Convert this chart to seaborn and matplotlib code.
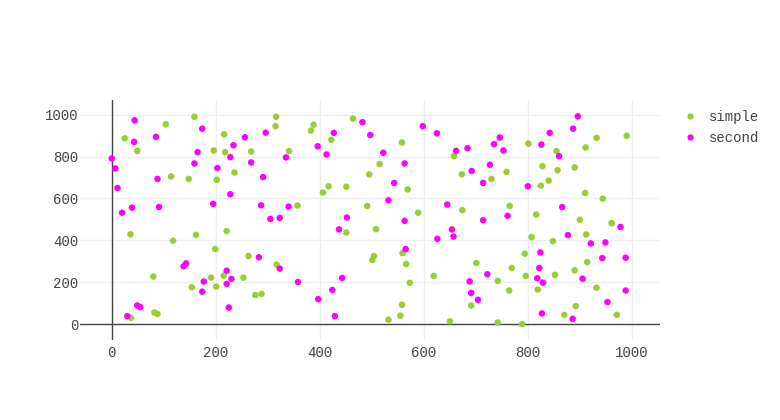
import numpy as np
import pandas as pd
import seaborn as sns
import matplotlib.pyplot as plt
from matplotlib.lines import Line2D

# -----------------------------
# Data
# -----------------------------

simple_x = [25, 49, 36, 37, 80, 82, 88, 104, 114, 118, 148, 154, 159, 162, 191, 196, 199, 201, 202, 215,
            216, 218, 221, 236, 253, 263, 268, 276, 288, 315, 316, 317, 341, 357, 383, 388, 406, 417, 422, 451,
            451, 464, 491, 495, 501, 504, 508, 515, 532, 555, 558, 558, 559, 566, 569, 573, 589, 619, 650, 658,
            673, 674, 691, 701, 730, 742, 742, 759, 764, 765, 769, 789, 794, 796, 801, 807, 816, 819, 825, 828,
            840, 848, 852, 855, 857, 870, 890, 890, 892, 900, 910, 911, 912, 914, 932, 932, 944, 961, 971, 990]
simple_y = [887, 827, 429, 30, 227, 55, 49, 954, 705, 398, 693, 176, 990, 426, 222, 829, 358, 179, 689, 231,
            906, 821, 444, 724, 222, 325, 824, 139, 144, 945, 990, 284, 826, 566, 924, 952, 628, 658, 880, 656,
            437, 981, 564, 715, 306, 325, 453, 764, 21, 40, 867, 92, 339, 287, 643, 197, 532, 230, 13, 802,
            715, 544, 89, 292, 693, 206, 8, 727, 160, 564, 268, 0, 336, 230, 862, 415, 523, 165, 661, 754,
            685, 396, 235, 826, 735, 44, 748, 257, 86, 498, 626, 843, 428, 296, 889, 174, 599, 482, 44, 899]

second_x = [0, 7, 11, 20, 30, 39, 43, 44, 49, 55, 85, 88, 91, 138, 143, 159, 165, 174, 174, 177,
            195, 203, 221, 221, 225, 228, 228, 230, 234, 256, 268, 283, 287, 291, 296, 305, 323, 323, 335, 340,
            358, 396, 397, 413, 424, 427, 429, 437, 443, 452, 482, 497, 522, 532, 543, 563, 563, 565, 598, 625,
            626, 645, 654, 657, 662, 684, 688, 691, 692, 704, 714, 714, 722, 727, 735, 746, 753, 761, 800, 818,
            822, 824, 826, 827, 829, 842, 860, 866, 877, 886, 887, 896, 905, 921, 943, 949, 953, 978, 988, 988]
second_y = [791, 743, 650, 532, 38, 556, 870, 973, 89, 81, 894, 693, 559, 276, 290, 767, 821, 933, 155, 203,
            574, 745, 255, 192, 79, 797, 620, 216, 854, 892, 772, 319, 567, 702, 914, 502, 507, 265, 796, 561,
            201, 849, 119, 810, 163, 913, 38, 452, 220, 509, 964, 903, 818, 591, 674, 767, 493, 358, 945, 911,
            407, 571, 452, 418, 827, 840, 204, 149, 731, 116, 674, 496, 238, 761, 859, 891, 829, 517, 658, 219,
            268, 342, 857, 51, 198, 913, 802, 559, 425, 25, 933, 992, 217, 385, 315, 390, 105, 464, 317, 160]

series_names = ["simple", "second"]
series_colors = ["#9acd32", "#ff00ff"]

df = pd.DataFrame({
    "x": simple_x + second_x,
    "y": simple_y + second_y,
    "series": ["simple"] * len(simple_x) + ["second"] * len(second_x),
})

# -----------------------------
# Plot
# -----------------------------

sns.set_theme(style="white")
plt.rcParams["font.family"] = ["Liberation Mono", "DejaVu Sans Mono"]

fig = plt.figure(figsize=(7.8, 4.2), dpi=100)
ax = fig.add_axes([80 / 780, 1 - 340 / 420, 580 / 780, 240 / 420])

ax.axvline(0, color="#444444", lw=1, zorder=1)
ax.axhline(0, color="#444444", lw=1, zorder=1)

sns.scatterplot(
    data=df, x="x", y="y", hue="series",
    palette=dict(zip(series_names, series_colors)),
    s=22, linewidth=0, legend=False, ax=ax, zorder=3
)

ax.set_xlim(-61, 1054)
ax.set_ylim(-76, 1070)
ax.set_xticks(range(0, 1001, 200))
ax.set_yticks(range(0, 1001, 200))
ax.grid(True, color="#eeeeee", lw=1)
ax.set_axisbelow(True)
for sp in ax.spines.values():
    sp.set_visible(False)
ax.set_xlabel("")
ax.set_ylabel("")
ax.tick_params(length=0, labelsize=10.1, labelcolor="#444444")
ax.tick_params(axis="x", pad=4)
ax.tick_params(axis="y", pad=1)

handles = [Line2D([], [], ls="", marker="o", markersize=4.5, color=c, markeredgewidth=0)
           for c in series_colors]
fig.legend(handles, series_names, loc="upper left", bbox_to_anchor=(677 / 780, 1 - 104 / 420),
           frameon=False, fontsize=10.1, labelcolor="#444444",
           handlelength=1.0, handletextpad=0.85, labelspacing=0.55, borderaxespad=0)

fig.savefig("out.png", dpi=100)
